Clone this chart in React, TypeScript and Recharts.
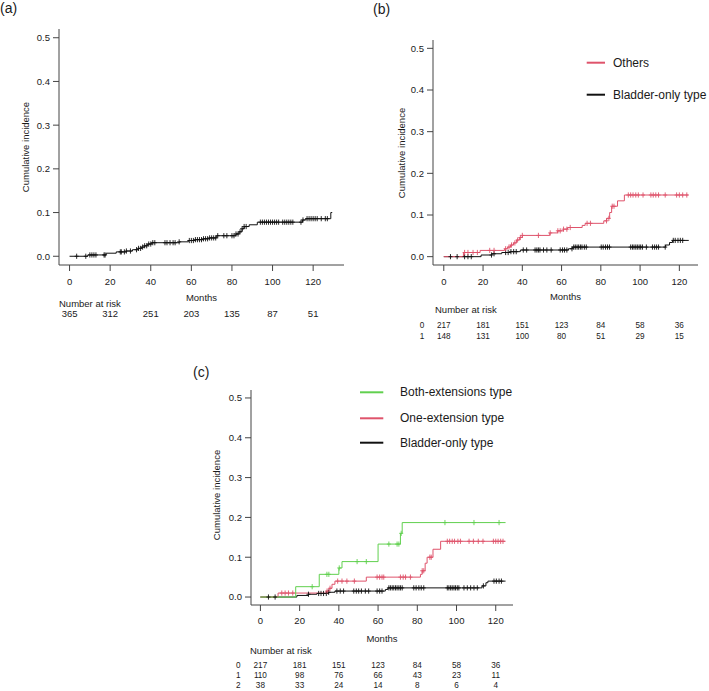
import { ComposedChart, Line, Scatter, XAxis, YAxis } from "recharts";

const FONT = "'Liberation Sans', Arial, Helvetica, sans-serif";
const INK = "#1a1a1a";
const AXIS = "#444";
const RED = "#DF536B";
const GREEN = "#61D04F";
const BLACK = "#111";

const monthTicks = [0, 20, 40, 60, 80, 100, 120];
const incidenceTicks = [0, 0.1, 0.2, 0.3, 0.4, 0.5];

// (a) whole cohort
const allTimes = [0, 9, 18, 23, 28, 31, 34, 35.5, 37, 38.5, 40.5, 54, 58.5, 62, 66, 69, 72.5, 82, 83.5, 85, 86, 88.5, 92.5, 114.8, 116.4, 128.7];
const allInc = [0, 0.003, 0.007, 0.01, 0.012, 0.015, 0.018, 0.021, 0.024, 0.028, 0.031, 0.033, 0.036, 0.038, 0.04, 0.042, 0.047, 0.051, 0.056, 0.063, 0.068, 0.072, 0.078, 0.083, 0.086, 0.1];
const allCensor = [3.5, 8, 10, 11, 12, 13, 17, 17.5, 25, 25.5, 27, 28, 30, 33, 34, 35, 36, 37, 38, 39, 40, 41, 42, 47, 48, 49.5, 51, 52, 54, 59, 60, 61, 62, 63, 64, 65, 66, 67, 68, 69, 70, 71, 72, 73, 76, 77.5, 80, 81, 82, 83, 84, 85, 86, 87, 94, 95, 96, 97, 98, 99, 100, 101, 102, 103, 105, 106, 107, 108, 109, 110, 114, 115, 117, 118, 119, 120, 121, 122, 124, 126, 127];
const allRisk = [365, 312, 251, 203, 135, 87, 51];

// (b) others vs bladder-only
const othersTimes = [0, 10, 18.5, 31, 32.5, 34, 35.5, 37, 38.5, 40, 54, 58, 61, 63, 70.5, 72, 81.5, 83, 84.5, 85.5, 88.5, 92];
const othersInc = [0, 0.01, 0.015, 0.019, 0.023, 0.028, 0.033, 0.04, 0.046, 0.051, 0.057, 0.062, 0.066, 0.07, 0.075, 0.08, 0.086, 0.092, 0.106, 0.121, 0.134, 0.148];
const othersCensor = [10.6, 12.3, 14.9, 17.1, 23.4, 25.6, 31.5, 33.2, 34.5, 36.2, 37.6, 39, 40, 48.2, 54.2, 58.1, 59.3, 61, 62.7, 64.4, 73, 74.7, 82.9, 84.1, 85.8, 86.7, 94, 95.2, 96.4, 97.8, 99.1, 101.5, 105.5, 106.7, 108, 109.4, 112.8, 118.6, 120, 121.7, 123.8];

const bladderBTimes = [0, 19, 24.5, 29.5, 34, 39, 63.5, 65.5, 113, 115, 116.5];
const bladderBInc = [0, 0.004, 0.007, 0.01, 0.012, 0.016, 0.019, 0.023, 0.028, 0.034, 0.039];
const bladderBCensor = [3.4, 6.8, 10.6, 12.3, 14, 24.3, 25.6, 31.5, 32.8, 34.2, 35.6, 36.9, 40.5, 42.2, 46.5, 47.4, 48.2, 49, 50.8, 52.5, 54.7, 59.3, 60.5, 61.5, 62.7, 65.3, 66.2, 67, 67.9, 68.7, 69.6, 70.4, 71.6, 72.6, 80.2, 81.2, 82.4, 83.4, 84.4, 95.2, 96.1, 96.9, 97.8, 98.6, 99.5, 100.3, 101.2, 103.2, 106.3, 107.4, 108.4, 109.4, 112.8, 116.9, 117.9, 119.3, 120.5, 121.7];

const riskB0 = [217, 181, 151, 123, 84, 58, 36];
const riskB1 = [148, 131, 100, 80, 51, 29, 15];

// (c) three types
const bothTimes = [0, 18, 30, 40, 41.6, 60, 71.4, 72.3];
const bothInc = [0, 0.026, 0.057, 0.073, 0.089, 0.133, 0.16, 0.187];
const bothCensor = [26.4, 33.9, 34.9, 40.2, 49.3, 54, 65.5, 69.7, 70.6, 71.8, 94.1, 108.9, 121.7];

const oneTimes = [0, 9, 33.6, 35, 36.5, 38, 54, 81.6, 82.5, 84, 85, 88, 91.9];
const oneInc = [0, 0.01, 0.015, 0.022, 0.032, 0.04, 0.05, 0.057, 0.066, 0.085, 0.1, 0.12, 0.14];
const oneCensor = [10.9, 12.6, 14.3, 16.5, 34, 35.5, 39.4, 41.6, 44.1, 47.9, 59.5, 60.8, 62, 62.9, 71.4, 72.8, 74, 76.5, 82.5, 83.3, 86.4, 87.1, 95.3, 96.5, 97.8, 99, 100.7, 102, 106.4, 108.6, 111.1, 113.5, 118.8, 120, 121.2, 122.5, 123.7];

const bladderCTimes = [0, 18.6, 24.5, 28.8, 34.8, 38, 63.7, 65, 113, 115, 116];
const bladderCInc = [0, 0.004, 0.007, 0.009, 0.012, 0.015, 0.019, 0.023, 0.028, 0.036, 0.04];
const bladderCCensor = [4.1, 7.5, 24.5, 29.7, 30.9, 32.2, 33.6, 34.8, 39, 40.7, 42.4, 47.6, 48.9, 50.1, 51.5, 53.5, 55.2, 59.5, 60.8, 62, 65.5, 66.3, 67.2, 68, 68.9, 69.7, 70.6, 71.4, 72.3, 78.2, 79.4, 80.8, 82, 83.3, 95.3, 96.1, 97, 97.8, 98.7, 99.5, 100.4, 101.2, 103.8, 105.5, 107.2, 108.9, 110.6, 113.7, 119.1, 120.3, 121.7, 122.9];

const riskC0 = [217, 181, 151, 123, 84, 58, 36];
const riskC1 = [110, 98, 76, 66, 43, 23, 11];
const riskC2 = [38, 33, 24, 14, 8, 6, 4];

type Pt = { t: number; v: number };

function steps(times: number[], values: number[], end: number): Pt[] {
  const pts = times.map((t, i) => ({ t, v: values[i] }));
  pts.push({ t: end, v: values[values.length - 1] });
  return pts;
}

function valueAt(times: number[], values: number[], t: number) {
  let v = 0;
  times.forEach((tt, i) => {
    if (tt <= t) v = values[i];
  });
  return v;
}

function marks(times: number[], values: number[], censor: number[]): Pt[] {
  return censor.map((t) => ({ t, v: valueAt(times, values, t) }));
}

const plusMark = (color: string) => (props: any) => {
  const { cx, cy } = props;
  return (
    <path
      d={`M${cx},${cy - 2.6}V${cy + 2.6}M${cx - 2},${cy}H${cx + 2}`}
      stroke={color}
      strokeWidth={0.9}
      fill="none"
    />
  );
};

const small = { fontFamily: FONT, fontSize: 9.5, fill: INK };

interface Curve {
  name: string;
  color: string;
  data: Pt[];
  censored: Pt[];
}

interface PanelProps {
  tag: string;
  tagPos: [number, number];
  left: number;
  top: number;
  width: number;
  height: number;
  margin: { top: number; right: number; bottom: number; left: number };
  yAxisWidth: number;
  xAxisHeight: number;
  xDomain: [number, number];
  curves: Curve[];
  legend: { name: string; color: string }[];
  legendLine: [number, number];
  legendText: number;
  legendY: number[];
  yLabelPos: [number, number];
  monthsPos: [number, number];
  riskTitlePos: [number, number];
  riskRows: number[][];
  riskFont: number;
  rowLabelX?: number;
  rowLabelY: number[];
  tickDy: number;
  rowDy: number[];
}

function Panel(p: PanelProps) {
  const renderTick = (props: any) => {
    const { x, y, payload } = props;
    const axisY = y - 8;
    const i = monthTicks.indexOf(payload.value);
    return (
      <g>
        <text x={x} y={axisY + p.tickDy} textAnchor="middle" dominantBaseline="central" {...small}>
          {payload.value}
        </text>
        {p.riskRows.map((row, r) => (
          <text
            key={r}
            x={x}
            y={axisY + p.rowDy[r]}
            textAnchor="middle"
            dominantBaseline="central"
            {...small}
            fontSize={p.riskFont}
          >
            {row[i]}
          </text>
        ))}
      </g>
    );
  };

  return (
    <div style={{ position: "absolute", left: p.left, top: p.top }}>
      <ComposedChart width={p.width} height={p.height} margin={p.margin}>
        <XAxis
          type="number"
          dataKey="t"
          domain={p.xDomain}
          ticks={monthTicks}
          interval={0}
          allowDataOverflow
          height={p.xAxisHeight}
          tickSize={6}
          tickMargin={2}
          axisLine={{ stroke: AXIS }}
          tickLine={{ stroke: AXIS }}
          tick={renderTick}
        />
        <YAxis
          type="number"
          dataKey="v"
          domain={[-0.02, 0.52]}
          ticks={incidenceTicks}
          interval={0}
          allowDataOverflow
          width={p.yAxisWidth}
          tickSize={6}
          tickMargin={3}
          axisLine={{ stroke: AXIS }}
          tickLine={{ stroke: AXIS }}
          tickFormatter={(v: number) => v.toFixed(1)}
          tick={small}
        />
        {p.curves.map((c) => (
          <Line
            key={c.name}
            data={c.data}
            dataKey="v"
            type="stepAfter"
            stroke={c.color}
            strokeWidth={1}
            dot={false}
            activeDot={false}
            isAnimationActive={false}
          />
        ))}
        {p.curves.map((c) => (
          <Scatter
            key={c.name + "-c"}
            data={c.censored}
            dataKey="v"
            shape={plusMark(c.color)}
            isAnimationActive={false}
          />
        ))}
        <g>
          <text x={p.tagPos[0]} y={p.tagPos[1]} dominantBaseline="central" fontFamily={FONT} fontSize={14} fill={INK}>
            {p.tag}
          </text>
          <text
            x={p.yLabelPos[0]}
            y={p.yLabelPos[1]}
            transform={`rotate(-90 ${p.yLabelPos[0]} ${p.yLabelPos[1]})`}
            textAnchor="middle"
            dominantBaseline="central"
            {...small}
          >
            Cumulative incidence
          </text>
          <text x={p.monthsPos[0]} y={p.monthsPos[1]} textAnchor="middle" dominantBaseline="central" {...small}>
            Months
          </text>
          <text x={p.riskTitlePos[0]} y={p.riskTitlePos[1]} dominantBaseline="central" {...small}>
            Number at risk
          </text>
          {p.rowLabelX !== undefined &&
            p.rowLabelY.map((ry, r) => (
              <text
                key={r}
                x={p.rowLabelX}
                y={ry}
                textAnchor="middle"
                dominantBaseline="central"
                {...small}
                fontSize={p.riskFont}
              >
                {r}
              </text>
            ))}
          {p.legend.map((l, k) => (
            <g key={l.name}>
              <line
                x1={p.legendLine[0]}
                x2={p.legendLine[1]}
                y1={p.legendY[k]}
                y2={p.legendY[k]}
                stroke={l.color}
                strokeWidth={2}
              />
              <text
                x={p.legendText}
                y={p.legendY[k]}
                dominantBaseline="central"
                fontFamily={FONT}
                fontSize={12}
                fill={INK}
              >
                {l.name}
              </text>
            </g>
          ))}
        </g>
      </ComposedChart>
    </div>
  );
}

export default function App() {
  return (
    <div style={{ position: "absolute", left: 0, top: 0, width: 709, height: 691, background: "#fff" }}>
      <Panel
        tag="(a)"
        tagPos={[0, 8]}
        left={0}
        top={0}
        width={360}
        height={330}
        margin={{ top: 29, right: 16, bottom: 0, left: 0 }}
        yAxisWidth={59}
        xAxisHeight={65}
        xDomain={[-5.2, 135.2]}
        curves={[
          {
            name: "All",
            color: BLACK,
            data: steps(allTimes, allInc, 129.4),
            censored: marks(allTimes, allInc, allCensor),
          },
        ]}
        legend={[]}
        legendLine={[0, 0]}
        legendText={0}
        legendY={[]}
        yLabelPos={[25, 147]}
        monthsPos={[201.5, 297]}
        riskTitlePos={[59, 303]}
        riskRows={[allRisk]}
        riskFont={9.5}
        rowLabelY={[]}
        tickDy={16}
        rowDy={[48]}
      />
      <Panel
        tag="(b)"
        tagPos={[13, 8.5]}
        left={360}
        top={0}
        width={349}
        height={345}
        margin={{ top: 40, right: 11, bottom: 0, left: 0 }}
        yAxisWidth={73}
        xAxisHeight={80}
        xDomain={[-5.5, 129.5]}
        curves={[
          {
            name: "Bladder-only type",
            color: BLACK,
            data: steps(bladderBTimes, bladderBInc, 124.8),
            censored: marks(bladderBTimes, bladderBInc, bladderBCensor),
          },
          {
            name: "Others",
            color: RED,
            data: steps(othersTimes, othersInc, 124.6),
            censored: marks(othersTimes, othersInc, othersCensor),
          },
        ]}
        legend={[
          { name: "Others", color: RED },
          { name: "Bladder-only type", color: BLACK },
        ]}
        legendLine={[226.7, 245]}
        legendText={253}
        legendY={[62.7, 94.7]}
        yLabelPos={[41.7, 153]}
        monthsPos={[205.5, 296.7]}
        riskTitlePos={[75, 309]}
        riskRows={[riskB0, riskB1]}
        riskFont={8.2}
        rowLabelX={62}
        rowLabelY={[325, 336]}
        tickDy={16}
        rowDy={[60, 71]}
      />
      <Panel
        tag="(c)"
        tagPos={[13, 41.5]}
        left={180}
        top={330}
        width={360}
        height={361}
        margin={{ top: 60, right: 27, bottom: 0, left: 0 }}
        yAxisWidth={71}
        xAxisHeight={86}
        xDomain={[-4.8, 128.8]}
        curves={[
          {
            name: "Bladder-only type",
            color: BLACK,
            data: steps(bladderCTimes, bladderCInc, 125),
            censored: marks(bladderCTimes, bladderCInc, bladderCCensor),
          },
          {
            name: "One-extension type",
            color: RED,
            data: steps(oneTimes, oneInc, 125),
            censored: marks(oneTimes, oneInc, oneCensor),
          },
          {
            name: "Both-extensions type",
            color: GREEN,
            data: steps(bothTimes, bothInc, 125),
            censored: marks(bothTimes, bothInc, bothCensor),
          },
        ]}
        legend={[
          { name: "Both-extensions type", color: GREEN },
          { name: "One-extension type", color: RED },
          { name: "Bladder-only type", color: BLACK },
        ]}
        legendLine={[180, 203.3]}
        legendText={220}
        legendY={[62.3, 88.3, 112.7]}
        yLabelPos={[36.7, 165]}
        monthsPos={[202, 308.3]}
        riskTitlePos={[70, 320.7]}
        riskRows={[riskC0, riskC1, riskC2]}
        riskFont={8.2}
        rowLabelX={58.3}
        rowLabelY={[335, 345.3, 355.7]}
        tickDy={15}
        rowDy={[60, 70.3, 80.7]}
      />
    </div>
  );
}
